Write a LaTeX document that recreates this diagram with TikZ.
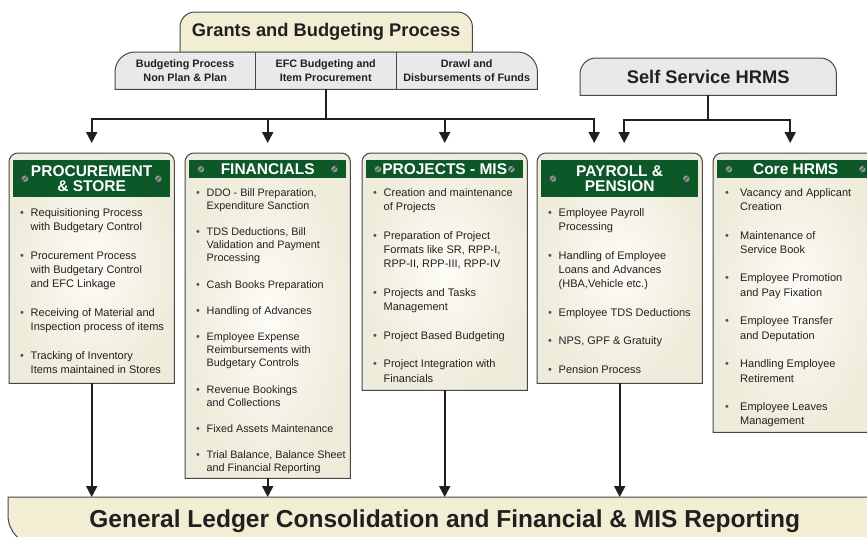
\documentclass[tikz,border=0pt]{standalone}
\usepackage{fontspec}
\setmainfont{Liberation Sans}
\usetikzlibrary{arrows.meta,backgrounds,positioning}

\definecolor{cream}{RGB}{242,238,212}
\definecolor{panelout}{RGB}{239,236,219}
\definecolor{panelin}{RGB}{253,252,246}
\definecolor{cellgray}{RGB}{233,233,233}
\definecolor{bandgreen}{RGB}{12,88,40}
\definecolor{edgegray}{RGB}{72,72,72}
\definecolor{inkblack}{RGB}{35,31,32}
\definecolor{bulgreen}{RGB}{40,105,85}
\definecolor{screwgray}{RGB}{140,150,148}

% bullet item with hanging indent
\newlength{\bulw}
\newcommand{\itm}{\par\hangindent=\bulw\hangafter=1\noindent\makebox[\bulw][l]{\textcolor{bulgreen}{•}}}
\newcommand{\liststart}[2]{\begin{minipage}[t]{160pt}\setlength{\parskip}{#1}\setlength{\bulw}{#2}}
\newcommand{\listend}{\par\end{minipage}}

% box with rounded top corners, drawn from the anchors of two nodes
\newcommand{\tabbox}[4]{\filldraw[#4] (#1.south west) -- ([yshift=-#3]#1.north west) arc[start angle=180, end angle=90, radius=#3] -- ([xshift=-#3]#2.north east) arc[start angle=90, end angle=0, radius=#3] -- (#2.south east) -- cycle;}

\begin{document}
\begin{tikzpicture}[x=1pt, y=-1pt, text=inkblack,
	tab/.style={fill=#1, draw=edgegray, line width=1pt},
	panelbg/.style={draw=edgegray, line width=1pt, inner color=panelin, outer color=panelout},
	title/.style={anchor=north west, inner sep=0pt, font=\fontsize{18.3}{20}\selectfont\bfseries},
	cell/.style={anchor=north west, minimum height=37pt, inner sep=0pt, align=center, font=\fontsize{10.8}{14}\selectfont\bfseries},
	panel/.style={anchor=north west, minimum width=165pt, inner sep=0pt},
	band/.style={anchor=north, fill=bandgreen, text=white, minimum width=157pt, inner sep=0pt, align=center, font=\fontsize{15.5}{15}\selectfont\bfseries},
	screw/.style={circle, fill=screwgray, inner sep=0pt, minimum size=6.5pt, path picture={\draw[line width=1pt, inkblack!80] (path picture bounding box.south west) -- (path picture bounding box.north east);}},
	listbox/.style={anchor=north west, inner sep=0pt, execute at end node=\listend},
	items/.style={listbox, font=\fontsize{11}{14.3}\selectfont, execute at begin node={\liststart{14.3pt}{10.5pt}}},
	finitems/.style={listbox, font=\fontsize{10.8}{13.2}\selectfont, execute at begin node={\liststart{13pt}{10.5pt}}},
	coreitems/.style={listbox, font=\fontsize{11}{14.3}\selectfont, execute at begin node={\liststart{14.3pt}{15pt}}},
	bus/.style={line width=2pt, draw=inkblack},
	flow/.style={bus, -{Triangle[length=11pt, width=11pt]}},
	drop/.style={flow, shorten >=10pt}]
	\useasboundingbox (0,0) rectangle (867,536);

	% top blocks
	\node[title, minimum width=292pt, minimum height=40pt] (gbp) at (180,12) {Grants and Budgeting Process};
	\node[cell, minimum width=140pt] (bp) at (115,52) {Budgeting Process\\Non Plan \& Plan};
	\node[cell, minimum width=141pt] (efc) at (255,52) {EFC Budgeting and\\Item Procurement};
	\node[cell, minimum width=141pt] (drawl) at (396,52) {Drawl and\\Disbursements of Funds};
	\node[title, minimum width=256pt, minimum height=37pt] (ssh) at (580,58) {Self Service HRMS};

	% module panels
	\node[panel, minimum height=230pt] (proc) at (9,153) {};
	\node[panel, minimum height=325pt] (fin) at (185,153) {};
	\node[panel, minimum height=237pt] (proj) at (362,153) {};
	\node[panel, minimum height=230pt] (pay) at (537,153) {};
	\node[panel, minimum height=279pt] (core) at (713,153) {};

	\node[band, minimum height=37pt] (procH) at ([yshift=-7pt]proc.north) {PROCUREMENT\\\& STORE};
	\node[band, minimum height=18pt] (finH) at ([yshift=-7pt]fin.north) {FINANCIALS};
	\node[band, minimum height=18pt] (projH) at ([yshift=-7pt]proj.north) {PROJECTS - MIS};
	\node[band, minimum height=37pt] (payH) at ([yshift=-7pt]pay.north) {PAYROLL \&\\PENSION};
	\node[band, minimum height=18pt] (coreH) at ([yshift=-7pt]core.north) {Core HRMS};

	\node[screw] (procS1) at ([xshift=12pt]procH.west) {};
	\node[screw] (procS2) at ([xshift=-12pt]procH.east) {};
	\node[screw] (finS1) at ([xshift=12pt]finH.west) {};
	\node[screw] (finS2) at ([xshift=-12pt]finH.east) {};
	\node[screw] (projS1) at ([xshift=12pt]projH.west) {};
	\node[screw] (projS2) at ([xshift=-12pt]projH.east) {};
	\node[screw] (payS1) at ([xshift=12pt]payH.west) {};
	\node[screw] (payS2) at ([xshift=-12pt]payH.east) {};
	\node[screw] (coreS1) at ([xshift=12pt]coreH.west) {};
	\node[screw] (coreS2) at ([xshift=-12pt]coreH.east) {};

	\node[items] (procL) at (20,208) {%
		\itm Requisitioning Process\newline with Budgetary Control
		\itm Procurement Process\newline with Budgetary Control\newline and EFC Linkage
		\itm Receiving of Material and\newline Inspection process of items
		\itm Tracking of Inventory\newline Items maintained in Stores\endgraf};
	\node[finitems] (finL) at (196,188) {%
		\itm DDO - Bill Preparation,\newline Expenditure Sanction
		\itm TDS Deductions, Bill\newline Validation and Payment\newline Processing
		\itm Cash Books Preparation
		\itm Handling of Advances
		\itm Employee Expense\newline Reimbursements with\newline Budgetary Controls
		\itm Revenue Bookings\newline and Collections
		\itm Fixed Assets Maintenance
		\itm Trial Balance, Balance Sheet\newline and Financial Reporting\endgraf};
	\node[items] (projL) at (373,188) {%
		\itm Creation and maintenance\newline of Projects
		\itm Preparation of Project\newline Formats like SR, RPP-I,\newline RPP-II, RPP-III, RPP-IV
		\itm Projects and Tasks\newline Management
		\itm Project Based Budgeting
		\itm Project Integration with\newline Financials\endgraf};
	\node[items] (payL) at (548,208) {%
		\itm Employee Payroll\newline Processing
		\itm Handling of Employee\newline Loans and Advances\newline (HBA,Vehicle etc.)
		\itm Employee TDS Deductions
		\itm NPS, GPF \& Gratuity
		\itm Pension Process\endgraf};
	\node[coreitems] (coreL) at (725,188) {%
		\itm Vacancy and Applicant\newline Creation
		\itm Maintenance of\newline Service Book
		\itm Employee Promotion\newline and Pay Fixation
		\itm Employee Transfer\newline and Deputation
		\itm Handling Employee\newline Retirement
		\itm Employee Leaves\newline Management\endgraf};

	% bottom block
	\node[anchor=north west, minimum width=873pt, minimum height=48pt, inner sep=0pt, font=\fontsize{24.5}{26}\selectfont\bfseries] (gl) at (8,497) {General Ledger Consolidation and Financial \& MIS Reporting};

	% shapes behind the texts
	\begin{scope}[on background layer]
		\tabbox{gbp}{gbp}{15pt}{tab=cream}
		\tabbox{bp}{drawl}{20pt}{tab=cellgray}
		\draw[edgegray, line width=1pt] (efc.north west) -- (efc.south west) (efc.north east) -- (efc.south east);
		\tabbox{ssh}{ssh}{16pt}{tab=cellgray}
		\tabbox{proc}{proc}{9pt}{panelbg}
		\tabbox{fin}{fin}{9pt}{panelbg}
		\tabbox{proj}{proj}{9pt}{panelbg}
		\tabbox{pay}{pay}{9pt}{panelbg}
		\tabbox{core}{core}{9pt}{panelbg}
		\filldraw[tab=cream] (gl.north east) -- (gl.north west) -- ([yshift=30pt]gl.south west) arc[start angle=180, end angle=270, radius=30pt] -- (gl.south east) -- cycle;
	\end{scope}

	% connectors
	\coordinate (gbus) at ([yshift=-30pt]efc.south);
	\coordinate (hbus) at ([yshift=-25pt]ssh.south);
	\coordinate (payA) at ([xshift=-25.5pt]pay.north);
	\coordinate (payB) at ([xshift=4.5pt]pay.north);
	\coordinate (coreA) at ([xshift=-5.5pt]core.north);
	\draw[bus] (efc.south) -- (gbus);
	\draw[drop] (gbus) -| (proc.north);
	\draw[drop] (gbus) -| (fin.north);
	\draw[drop] (gbus) -| (proj.north);
	\draw[drop] (gbus) -| (payA);
	\draw[bus] (ssh.south) -- (hbus);
	\draw[drop] (hbus) -| (payB);
	\draw[drop] (hbus) -| (coreA);
	\draw[flow] (proc.south) -- (proc.south |- gl.north);
	\draw[flow] (fin.south) -- (fin.south |- gl.north);
	\draw[flow] (proj.south) -- (proj.south |- gl.north);
	\draw[flow] (pay.south) -- (pay.south |- gl.north);
\end{tikzpicture}
\end{document}
